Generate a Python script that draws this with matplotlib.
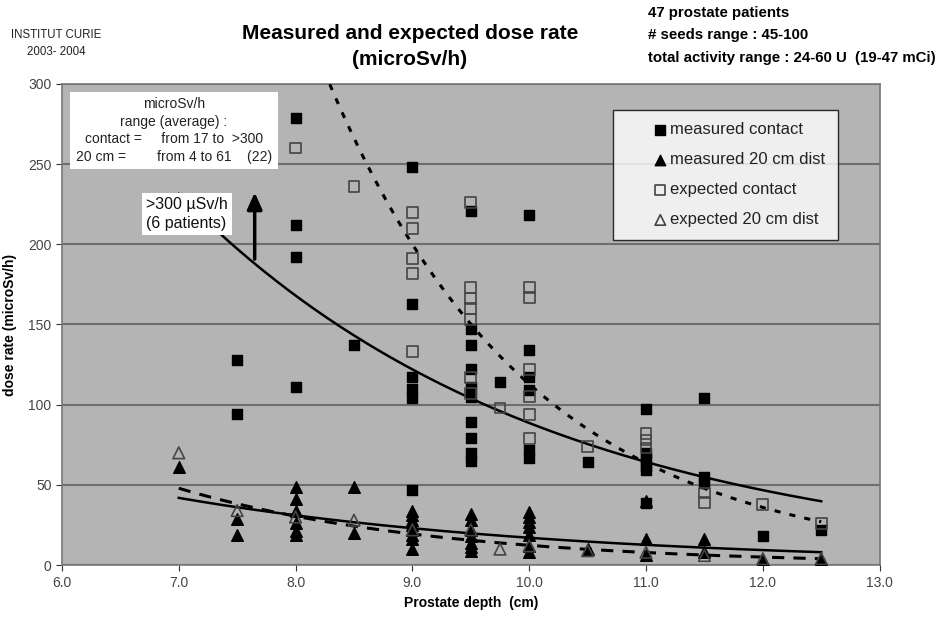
import numpy as np
import matplotlib
matplotlib.use("Agg")
import matplotlib.pyplot as plt

plt.rcParams['font.family'] = ['Liberation Sans', 'DejaVu Sans']

# ---- data ----
meas_contact_x = [7.5, 7.5, 8.0, 8.0, 8.0, 8.0, 8.5,
                  9.0, 9.0, 9.0, 9.0, 9.0, 9.0,
                  9.5, 9.5, 9.5, 9.5, 9.5, 9.5, 9.5, 9.5, 9.5, 9.5,
                  9.75, 10.0, 10.0, 10.0, 10.0, 10.0, 10.0, 10.5,
                  11.0, 11.0, 11.0, 11.0, 11.0, 11.0,
                  11.5, 11.5, 11.5, 12.0, 12.5]
meas_contact_y = [128, 94, 279, 212, 192, 111, 137,
                  248, 163, 117, 110, 104, 47,
                  221, 147, 137, 122, 111, 105, 89, 79, 70, 65,
                  114, 218, 134, 117, 109, 72, 67, 64,
                  97, 70, 66, 62, 59, 39,
                  104, 55, 51, 18, 22]

exp_contact_x = [8.0, 8.5, 9.0, 9.0, 9.0, 9.0, 9.0,
                 9.5, 9.5, 9.5, 9.5, 9.5, 9.5, 9.5,
                 9.75, 10.0, 10.0, 10.0, 10.0, 10.0, 10.0,
                 10.5, 11.0, 11.0, 11.0, 11.5, 11.5, 12.0, 12.5]
exp_contact_y = [260, 236, 220, 210, 191, 182, 133,
                 226, 173, 166, 160, 153, 117, 107,
                 98, 173, 167, 122, 105, 94, 79,
                 74, 82, 78, 73, 45, 39, 38, 26]

meas_20_x = [7.0, 7.5, 7.5, 8.0, 8.0, 8.0, 8.0, 8.0, 8.0, 8.5, 8.5,
             9.0, 9.0, 9.0, 9.0, 9.0, 9.0, 9.0, 9.0,
             9.5, 9.5, 9.5, 9.5, 9.5, 9.5, 9.5,
             10.0, 10.0, 10.0, 10.0, 10.0, 10.0, 10.0,
             10.5, 11.0, 11.0, 11.0, 11.5, 11.5, 12.0, 12.5]
meas_20_y = [61, 29, 19, 49, 41, 34, 26, 21, 19, 49, 20,
             34, 31, 28, 25, 22, 19, 16, 10,
             32, 28, 22, 18, 14, 11, 9,
             33, 30, 27, 24, 19, 12, 8,
             10, 40, 16, 6, 16, 8, 3, 4]

exp_20_x = [7.0, 7.5, 8.0, 8.5, 9.0, 9.5, 9.75, 10.0, 10.5, 11.0, 11.5, 12.0, 12.5]
exp_20_y = [70, 34, 30, 28, 22, 22, 10, 12, 9, 8, 6, 4, 4]

# exponential trend lines y = a * exp(-b * (x - 9))
trend_meas_contact = (122.0, 0.32)
trend_exp_contact = (200.0, 0.572)
trend_meas_20 = (23.0, 0.30)
trend_exp_20 = (19.4, 0.452)
trend_x_range = (7.0, 12.5)

x_ticks = [6.0, 7.0, 8.0, 9.0, 10.0, 11.0, 12.0, 13.0]
y_ticks = [0, 50, 100, 150, 200, 250, 300]

# ---- figure ----
fig = plt.figure(figsize=(9.53, 6.21), dpi=100)
ax = fig.add_axes([0.065, 0.090, 0.858, 0.775])
ax.set_facecolor('#b4b4b4')
ax.set_xlim(6.0, 13.0)
ax.set_ylim(0, 300)
ax.set_xticks(x_ticks)
ax.set_xticklabels([f"{t:.1f}" for t in x_ticks])
ax.set_yticks(y_ticks)
ax.tick_params(labelsize=10, colors='#333333', length=4, direction='out')
for t in ax.get_xticklabels() + ax.get_yticklabels():
    t.set_color('#444444')
for s in ax.spines.values():
    s.set_color('#777777')
    s.set_linewidth(1.2)
ax.yaxis.grid(True, color='#6e6e6e', linewidth=1.5)
ax.set_axisbelow(True)

xs = np.linspace(trend_x_range[0], trend_x_range[1], 200)
def trend(p):
    return p[0] * np.exp(-p[1] * (xs - 9.0))

ax.plot(xs, trend(trend_meas_contact), color='black', lw=1.8, zorder=3)
ax.plot(xs, trend(trend_exp_contact), color='black', lw=2.2,
        linestyle=(0, (2, 3)), zorder=3)
ax.plot(xs, trend(trend_meas_20), color='black', lw=1.8, zorder=3)
ax.plot(xs, trend(trend_exp_20), color='black', lw=2.2,
        linestyle=(0, (4, 3)), zorder=3)

ms = 60
ax.scatter(meas_contact_x, meas_contact_y, marker='s', s=ms, c='black',
           zorder=4, label='measured contact')
ax.scatter(meas_20_x, meas_20_y, marker='^', s=ms + 10, c='black',
           zorder=4, label='measured 20 cm dist')
ax.scatter(exp_contact_x, exp_contact_y, marker='s', s=ms, facecolors='none',
           edgecolors='#444444', linewidths=1.2, zorder=4, label='expected contact')
ax.scatter(exp_20_x, exp_20_y, marker='^', s=ms + 10, facecolors='none',
           edgecolors='#444444', linewidths=1.2, zorder=4, label='expected 20 cm dist')

leg = ax.legend(loc='upper right', bbox_to_anchor=(0.949, 0.946), fontsize=12,
                frameon=True, fancybox=False, edgecolor='black',
                handletextpad=-1.5, borderpad=0.75, labelspacing=0.9,
                handlelength=4.2, borderaxespad=0, markerscale=0.9)
leg.get_frame().set_linewidth(1.0)
leg.set_zorder(6)
for t in leg.get_texts():
    t.set_color('#222222')

# info box upper-left
ax.text(0.017, 0.972,
        "microSv/h\nrange (average) :\ncontact =     from 17 to  >300\n20 cm =        from 4 to 61    (22)",
        transform=ax.transAxes, ha='left', va='top', fontsize=10,
        multialignment='center', color='#222222', linespacing=1.32,
        bbox=dict(boxstyle='square,pad=0.4', fc='white', ec='none'), zorder=6)

# >300 annotation
ax.text(6.72, 219, ">300 µSv/h\n(6 patients)", fontsize=11.5, ha='left', va='center',
        color='#111111', linespacing=1.3,
        bbox=dict(boxstyle='square,pad=0.25', fc='white', ec='none'), zorder=5)
ax.annotate('', xy=(7.65, 234), xytext=(7.65, 189),
            arrowprops=dict(arrowstyle='-|>,head_width=0.45,head_length=1.0',
                            color='black', lw=2.5), zorder=6)

ax.set_xlabel("Prostate depth  (cm)", fontsize=10, fontweight='bold', labelpad=5)
ax.set_ylabel("dose rate (microSv/h)", fontsize=10, fontweight='bold', labelpad=8)

fig.text(0.43, 0.962, "Measured and expected dose rate\n(microSv/h)", ha='center',
         va='top', fontsize=15, fontweight='bold', linespacing=1.5)
fig.text(0.059, 0.953, "INSTITUT CURIE\n2003- 2004", ha='center', va='top',
         fontsize=8.3, color='#222222', linespacing=1.55)
fig.text(0.68, 0.99, "47 prostate patients\n# seeds range : 45-100\ntotal activity range : 24-60 U  (19-47 mCi)",
         ha='left', va='top', fontsize=10.8, fontweight='bold', linespacing=1.75)

fig.savefig("out.png", dpi=100, facecolor='white')
